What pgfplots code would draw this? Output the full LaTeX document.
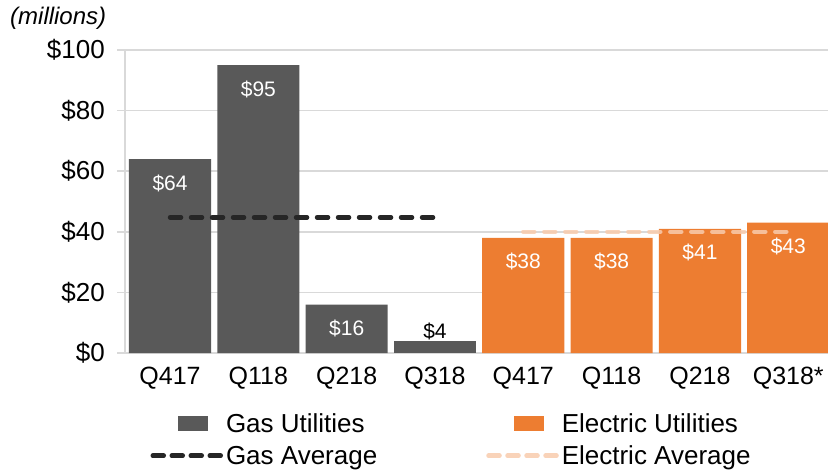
\documentclass[border=0pt]{standalone}
\usepackage{pgfplots}
\pgfplotsset{compat=1.18}
\usepackage{fontspec}
\setmainfont{Liberation Sans}
\definecolor{gasc}{HTML}{595959}
\definecolor{elc}{HTML}{ED7D31}
\definecolor{gasavg}{HTML}{262626}
\definecolor{elavg}{HTML}{F8CBAD}
\definecolor{gridc}{HTML}{D9D9D9}
\begin{document}
\begin{tikzpicture}
\begin{axis}[
  scale only axis, width=703pt, height=303pt,
  xmin=-0.51, xmax=7.45, ymin=0, ymax=100,
  axis x line*=bottom, axis y line*=left,
  axis line style={-, gridc, line width=1.5pt},
  ytick={0,20,...,100},
  yticklabel={\$\pgfmathprintnumber{\tick}},
  ymajorgrids, grid style={gridc, line width=1.5pt},
  xtick={0,...,7},
  xticklabels={Q417,Q118,Q218,Q318,Q417,Q118,Q218,Q318*},
  x tick style={draw=none},
  y tick style={gridc, line width=1.5pt},
  major tick length=8pt, tick align=outside,
  xticklabel style={font=\fontsize{25}{30}\selectfont, yshift=-3pt},
  yticklabel style={font=\fontsize{26}{31}\selectfont, inner xsep=12pt},
  /pgf/number format/assume math mode=true,
  legend columns=2,
  legend style={draw=none, fill=none, at={(axis description cs:0.036,-0.188)}, anchor=north west,
    font=\fontsize{26}{31}\selectfont, inner sep=0pt,
    /tikz/every even column/.append style={column sep=106pt},
    row sep=6pt,
    nodes={inner xsep=3pt, inner ysep=3pt}},
  legend cell align=left,
]
\addplot[ybar, bar width=0.93, bar shift=0pt, fill=gasc, draw=none,
  legend image code/.code={\path[draw=none,fill=none] (0pt,0pt) -- (72pt,0pt); \fill[gasc, draw=none] (27pt,-7.5pt) rectangle (57pt,7.5pt);},
  nodes near coords={\$\pgfmathprintnumber{\pgfplotspointmeta}},
  every node near coord/.append style={white, anchor=center, yshift=-24pt, font=\fontsize{21}{25}\selectfont}]
  coordinates {(0,64) (1,95) (2,16)};
\addlegendentry{Gas Utilities}
\addplot[ybar, bar width=0.93, bar shift=0pt, fill=gasc, draw=none, forget plot,
  nodes near coords={\$\pgfmathprintnumber{\pgfplotspointmeta}},
  every node near coord/.append style={black, anchor=south, inner sep=1pt, font=\fontsize{21}{25}\selectfont}]
  coordinates {(3,4)};
\addplot[ybar, bar width=0.93, bar shift=0pt, fill=elc, draw=none,
  legend image code/.code={\path[draw=none,fill=none] (0pt,0pt) -- (72pt,0pt); \fill[elc, draw=none] (27pt,-7.5pt) rectangle (57pt,7.5pt);},
  nodes near coords={\$\pgfmathprintnumber{\pgfplotspointmeta}},
  every node near coord/.append style={white, anchor=center, yshift=-24pt, font=\fontsize{21}{25}\selectfont}]
  coordinates {(4,38) (5,38) (6,41) (7,43)};
\addlegendentry{Electric Utilities}
\addplot[gasavg, line width=4.5pt, line cap=round, dash pattern=on 11pt off 10pt,
  legend image code/.code={\draw[gasavg, line width=4.5pt, line cap=round, dash pattern=on 11pt off 8pt] (2pt,0pt) -- (70pt,0pt);}]
  coordinates {(0,44.75) (3.05,44.75)};
\addlegendentry{Gas Average}
\addplot[elavg, opacity=0.85, line width=4.5pt, line cap=round, dash pattern=on 11pt off 10pt,
  legend image code/.code={\draw[elavg, line width=4.5pt, line cap=round, dash pattern=on 11pt off 8pt] (2pt,0pt) -- (70pt,0pt);}]
  coordinates {(4,40) (7.05,40)};
\addlegendentry{Electric Average}
\coordinate (A) at (rel axis cs:0,0);
\coordinate (B) at (rel axis cs:1,1);
\coordinate (C) at (rel axis cs:0,1);
\end{axis}
\node[anchor=base west, inner sep=0pt, font=\fontsize{24}{28}\selectfont\itshape] at ([xshift=-115pt,yshift=25pt]C) {(millions)};
\pgfresetboundingbox
\path[use as bounding box] ([xshift=-125pt,yshift=-116pt]A) rectangle ([yshift=50pt]B);
\end{tikzpicture}
\end{document}
